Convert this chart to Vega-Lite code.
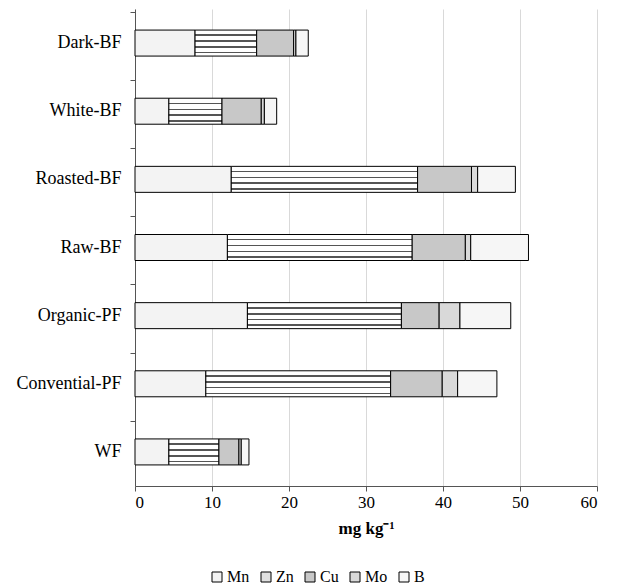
{
  "$schema": "https://vega.github.io/schema/vega-lite/v6.json",
  "autosize": "none",
  "width": 462,
  "height": 477,
  "padding": {"left": 135, "top": 9, "right": 20, "bottom": 101},
  "background": "white",
  "config": {
    "font": "Liberation Serif",
    "view": {"stroke": null},
    "axis": {"labelFont": "Liberation Serif", "titleFont": "Liberation Serif", "labelColor": "black", "titleColor": "black", "domainColor": "#555555", "tickColor": "#555555"},
    "legend": {"labelFont": "Liberation Serif"}
  },
  "data": {
    "values": [
      {"sample": "Dark-BF", "element": "Mn", "value": 7.8},
      {"sample": "Dark-BF", "element": "Zn", "value": 8.0},
      {"sample": "Dark-BF", "element": "Cu", "value": 4.8},
      {"sample": "Dark-BF", "element": "Mo", "value": 0.3},
      {"sample": "Dark-BF", "element": "B", "value": 1.6},
      {"sample": "White-BF", "element": "Mn", "value": 4.4},
      {"sample": "White-BF", "element": "Zn", "value": 6.9},
      {"sample": "White-BF", "element": "Cu", "value": 5.1},
      {"sample": "White-BF", "element": "Mo", "value": 0.4},
      {"sample": "White-BF", "element": "B", "value": 1.6},
      {"sample": "Roasted-BF", "element": "Mn", "value": 12.5},
      {"sample": "Roasted-BF", "element": "Zn", "value": 24.2},
      {"sample": "Roasted-BF", "element": "Cu", "value": 7.0},
      {"sample": "Roasted-BF", "element": "Mo", "value": 0.8},
      {"sample": "Roasted-BF", "element": "B", "value": 4.9},
      {"sample": "Raw-BF", "element": "Mn", "value": 12.0},
      {"sample": "Raw-BF", "element": "Zn", "value": 24.0},
      {"sample": "Raw-BF", "element": "Cu", "value": 6.9},
      {"sample": "Raw-BF", "element": "Mo", "value": 0.7},
      {"sample": "Raw-BF", "element": "B", "value": 7.5},
      {"sample": "Organic-PF", "element": "Mn", "value": 14.6},
      {"sample": "Organic-PF", "element": "Zn", "value": 20.0},
      {"sample": "Organic-PF", "element": "Cu", "value": 4.9},
      {"sample": "Organic-PF", "element": "Mo", "value": 2.7},
      {"sample": "Organic-PF", "element": "B", "value": 6.6},
      {"sample": "Convential-PF", "element": "Mn", "value": 9.2},
      {"sample": "Convential-PF", "element": "Zn", "value": 24.0},
      {"sample": "Convential-PF", "element": "Cu", "value": 6.7},
      {"sample": "Convential-PF", "element": "Mo", "value": 2.0},
      {"sample": "Convential-PF", "element": "B", "value": 5.1},
      {"sample": "WF", "element": "Mn", "value": 4.4},
      {"sample": "WF", "element": "Zn", "value": 6.5},
      {"sample": "WF", "element": "Cu", "value": 2.6},
      {"sample": "WF", "element": "Mo", "value": 0.3},
      {"sample": "WF", "element": "B", "value": 1.0}
    ]
  },
  "transform": [
    {"calculate": "indexof(['Mn','Zn','Cu','Mo','B'], datum.element)", "as": "stackOrder"}
  ],
  "mark": {"type": "bar", "stroke": "black", "strokeWidth": 1, "size": 26},
  "encoding": {
    "y": {
      "field": "sample", "type": "nominal", "sort": null,
      "axis": {"title": null, "labelFont": "Liberation Serif", "labelFontSize": 18, "labelPadding": 9, "tickSize": 5, "bandPosition": 0, "ticks": true, "grid": false}
    },
    "x": {
      "field": "value", "type": "quantitative", "stack": "zero",
      "scale": {"domain": [0, 60], "nice": false},
      "axis": {"values": [0, 10, 20, 30, 40, 50, 60], "title": "mg kg⁻¹", "titleFont": "Liberation Serif", "labelFont": "Liberation Serif", "titleFontSize": 17, "titleFontWeight": "bold", "titlePadding": 10, "labelFontSize": 17, "tickSize": 5, "labelPadding": 3, "grid": true, "gridColor": "#d9d9d9"}
    },
    "order": {"field": "stackOrder", "type": "quantitative"},
    "fill": {
      "condition": {"test": "datum.element === 'Zn'", "value": {"gradient": "linear", "x1": 0, "y1": 0, "x2": 0, "y2": 1, "stops": [
            {"offset": 0, "color": "#ffffff"}, {"offset": 0.17, "color": "#ffffff"},
            {"offset": 0.17, "color": "#555555"}, {"offset": 0.23, "color": "#555555"},
            {"offset": 0.23, "color": "#ffffff"}, {"offset": 0.4, "color": "#ffffff"},
            {"offset": 0.4, "color": "#555555"}, {"offset": 0.46, "color": "#555555"},
            {"offset": 0.46, "color": "#ffffff"}, {"offset": 0.62, "color": "#ffffff"},
            {"offset": 0.62, "color": "#555555"}, {"offset": 0.68, "color": "#555555"},
            {"offset": 0.68, "color": "#ffffff"}, {"offset": 0.84, "color": "#ffffff"},
            {"offset": 0.84, "color": "#555555"}, {"offset": 0.9, "color": "#555555"},
            {"offset": 0.9, "color": "#ffffff"}, {"offset": 1, "color": "#ffffff"}
          ]}},
      "field": "element", "type": "nominal",
      "scale": {
        "domain": ["Mn", "Zn", "Cu", "Mo", "B"],
        "range": ["#f3f3f3", "#e0e0e0", "#c8c8c8", "#d9d9d9", "#f6f6f6"]
      },
      "legend": {
        "title": null, "orient": "none", "direction": "horizontal", "legendX": 74, "legendY": 560,
        "symbolType": "square", "symbolSize": 100, "symbolStrokeColor": "black", "symbolStrokeWidth": 1,
        "labelFontSize": 16, "labelFont": "Liberation Serif", "labelColor": "black", "columnPadding": 8, "labelOffset": 2
      }
    }
  }
}
